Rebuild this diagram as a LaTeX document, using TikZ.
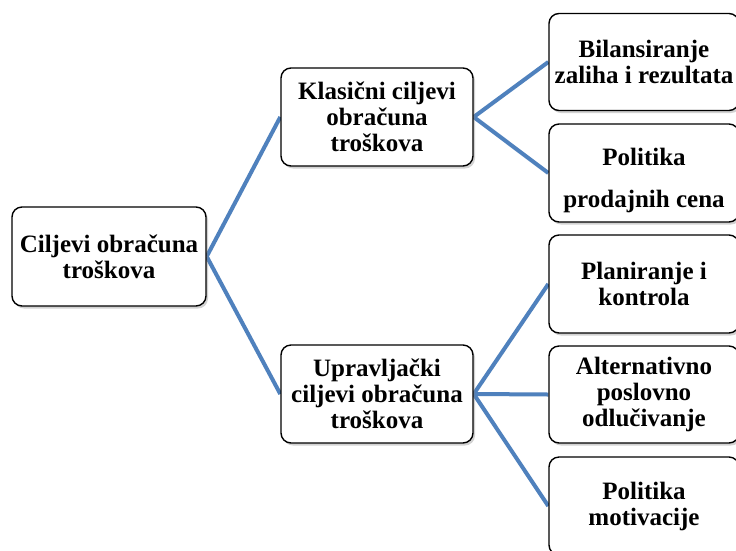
\documentclass[tikz,border=0pt]{standalone}
\usepackage{fontspec}
\setmainfont{Liberation Serif}
\usetikzlibrary{shadows,backgrounds}
\definecolor{linkblue}{HTML}{4F81BD}
\tikzset{
  box/.style={draw=black, line width=1.4pt, rounded corners=10pt, fill=white,
    drop shadow={shadow xshift=2pt, shadow yshift=-2.5pt, opacity=0.35},
    align=center, inner sep=0pt,
    font=\bfseries\fontsize{25}{26}\selectfont},
  conn/.style={draw=linkblue, line width=4pt}
}
\begin{document}
\begin{tikzpicture}[x=1pt,y=-1pt]
\clip (0,0) rectangle (736,550);
\node[box, minimum width=194pt, minimum height=99pt] (root) at (109,256.5) {Ciljevi obračuna\\troškova};
\node[box, minimum width=192pt, minimum height=98pt] (klas) at (377,117) {Klasični ciljevi\\obračuna\\troškova};
\node[box, minimum width=192pt, minimum height=98pt] (upr) at (377,394) {Upravljački\\ciljevi obračuna\\troškova};
\node[box, minimum width=190pt, minimum height=97pt] (b1) at (644,62) {Bilansiranje\\zaliha i rezultata};
\node[box, minimum width=190pt, minimum height=98pt] (b2) at (644,173) {\rule{0pt}{32pt}Politika\\[16pt]prodajnih cena};
\node[box, minimum width=190pt, minimum height=98pt] (b3) at (644,284) {Planiranje i\\kontrola};
\node[box, minimum width=190pt, minimum height=97pt] (b4) at (644,394.5) {Alternativno\\poslovno\\odlučivanje};
\node[box, minimum width=190pt, minimum height=98pt] (b5) at (644,506) {Politika\\motivacije};
\begin{scope}[on background layer]
\fill[white] (0,0) rectangle (736,550);
\draw[conn] (root.east) -- (klas.west);
\draw[conn] (root.east) -- (upr.west);
\draw[conn] (klas.east) -- (b1.west);
\draw[conn] (klas.east) -- (b2.west);
\draw[conn] (upr.east) -- (b3.west);
\draw[conn] (upr.east) -- (b4.west);
\draw[conn] (upr.east) -- (b5.west);
\end{scope}
\end{tikzpicture}
\end{document}
